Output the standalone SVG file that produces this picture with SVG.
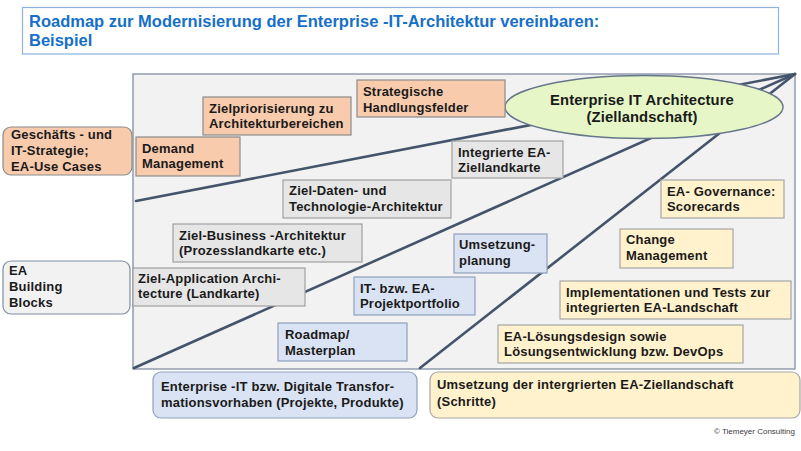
<svg xmlns="http://www.w3.org/2000/svg" width="801" height="451" viewBox="0 0 801 451">
<style>
text{font-family:"Liberation Sans",Arial,sans-serif;font-weight:bold;font-size:13px;fill:#1a1a1a;letter-spacing:0.2px}
.title{font-size:16.5px;fill:#1670c8;letter-spacing:0}
.or{fill:#f8cbad;stroke:#8c8c8c;stroke-width:1.2}
.gr{fill:#e6e6e6;stroke:#a0a0a0;stroke-width:1.2}
.bl{fill:#dae3f3;stroke:#8fa0bb;stroke-width:1.2}
.ye{fill:#fff2cc;stroke:#a6a6a6;stroke-width:1.2}
.lg{fill:#f2f2f2;stroke:#7f8ea3;stroke-width:1.2}
.ln{stroke:#44546a;stroke-width:2.6;fill:none;stroke-linecap:round}
.el{font-size:14.8px;letter-spacing:0.1px}
.copy{font-size:8px;font-weight:normal;fill:#404040;letter-spacing:0}
</style>
<rect width="801" height="451" fill="#ffffff"/>
<g id="title">
<rect x="22.5" y="7.5" width="756" height="46.5" fill="#ffffff" stroke="#8db3e2" stroke-width="1.2"/>
<text class="title" x="29" y="27">Roadmap zur Modernisierung der Enterprise -IT-Architektur vereinbaren:</text>
<text class="title" x="29" y="46">Beispiel</text>
</g>
<g id="frame">
<rect x="133" y="74" width="662" height="295" fill="#f2f2f2" stroke="#8a96a8" stroke-width="1.4"/>
</g>
<g id="connectors">
<line class="ln" x1="136" y1="201" x2="795" y2="74"/>
<line class="ln" x1="134" y1="368" x2="795" y2="74"/>
<line class="ln" x1="420" y1="368" x2="795" y2="74"/>
</g>
<g id="n-ziellandschaft">
<ellipse cx="644" cy="107" rx="139" ry="31.5" fill="#e6f6c6" stroke="#66768a" stroke-width="1.4"/>
<text class="el" x="642" y="105" text-anchor="middle">Enterprise IT Architecture</text>
<text class="el" x="642" y="122" text-anchor="middle">(Ziellandschaft)</text>
</g>
<g id="n-strategie">
<rect class="or" x="3" y="127" width="129" height="48" rx="8"/>
<text x="11" y="139">Geschäfts - und</text>
<text x="11" y="155">IT-Strategie;</text>
<text x="11" y="171">EA-Use Cases</text>
</g>
<g id="n-handlungsfelder">
<rect class="or" x="357" y="80" width="148" height="37"/>
<text x="363" y="96">Strategische</text>
<text x="363" y="112">Handlungsfelder</text>
</g>
<g id="n-zielpriorisierung">
<rect class="or" x="203" y="97" width="148" height="38"/>
<text x="209" y="113">Zielpriorisierung zu</text>
<text x="209" y="128">Architekturbereichen</text>
</g>
<g id="n-demand">
<rect class="or" x="136" y="137" width="104" height="39"/>
<text x="142" y="153">Demand</text>
<text x="142" y="168">Management</text>
</g>
<g id="n-ziellandkarte">
<rect class="gr" x="452" y="141" width="111" height="37"/>
<text x="458" y="157">Integrierte EA-</text>
<text x="458" y="172">Ziellandkarte</text>
</g>
<g id="n-daten">
<rect class="gr" x="283" y="180" width="168" height="38"/>
<text x="289" y="195">Ziel-Daten- und</text>
<text x="289" y="211">Technologie-Architektur</text>
</g>
<g id="n-business">
<rect class="gr" x="173" y="224" width="189" height="38"/>
<text x="179" y="240">Ziel-Business -Architektur</text>
<text x="179" y="255">(Prozesslandkarte etc.)</text>
</g>
<g id="n-application">
<rect class="gr" x="133" y="268" width="172" height="38"/>
<text x="138" y="283">Ziel-Application Archi-</text>
<text x="138" y="298">tecture (Landkarte)</text>
</g>
<g id="n-buildingblocks">
<rect class="lg" x="3" y="261" width="127" height="53" rx="8"/>
<text x="9" y="275">EA</text>
<text x="9" y="291">Building</text>
<text x="9" y="307">Blocks</text>
</g>
<g id="n-umsetzungsplanung">
<rect class="bl" x="454" y="234" width="93" height="39"/>
<text x="459" y="249">Umsetzung-</text>
<text x="459" y="265">planung</text>
</g>
<g id="n-projektportfolio">
<rect class="bl" x="354" y="277" width="121" height="38"/>
<text x="360" y="293">IT- bzw. EA-</text>
<text x="360" y="308">Projektportfolio</text>
</g>
<g id="n-masterplan">
<rect class="bl" x="278" y="323" width="129" height="38"/>
<text x="285" y="339">Roadmap/</text>
<text x="285" y="355">Masterplan</text>
</g>
<g id="n-vorhaben">
<rect class="bl" x="153" y="372" width="264" height="46" rx="8"/>
<text x="161" y="391">Enterprise -IT bzw. Digitale Transfor-</text>
<text x="161" y="407">mationsvorhaben (Projekte, Produkte)</text>
</g>
<g id="n-governance">
<rect class="ye" x="661" y="180" width="123" height="38"/>
<text x="667" y="196">EA- Governance:</text>
<text x="667" y="211">Scorecards</text>
</g>
<g id="n-change">
<rect class="ye" x="620" y="229" width="113" height="39"/>
<text x="626" y="244">Change</text>
<text x="626" y="260">Management</text>
</g>
<g id="n-implementation">
<rect class="ye" x="560" y="281" width="231" height="38"/>
<text x="566" y="297">Implementationen und Tests zur</text>
<text x="566" y="312">integrierten EA-Landschaft</text>
</g>
<g id="n-loesungsdesign">
<rect class="ye" x="498" y="325" width="245" height="38"/>
<text x="504" y="341">EA-Lösungsdesign  sowie</text>
<text x="504" y="356">Lösungsentwicklung  bzw. DevOps</text>
</g>
<g id="n-umsetzung">
<rect class="ye" x="430" y="372" width="370" height="46" rx="8"/>
<text x="437" y="389">Umsetzung der intergrierten EA-Ziellandschaft</text>
<text x="437" y="406">(Schritte)</text>
</g>
<text class="copy" x="795" y="434" text-anchor="end">© Tiemeyer Consulting</text>
</svg>
